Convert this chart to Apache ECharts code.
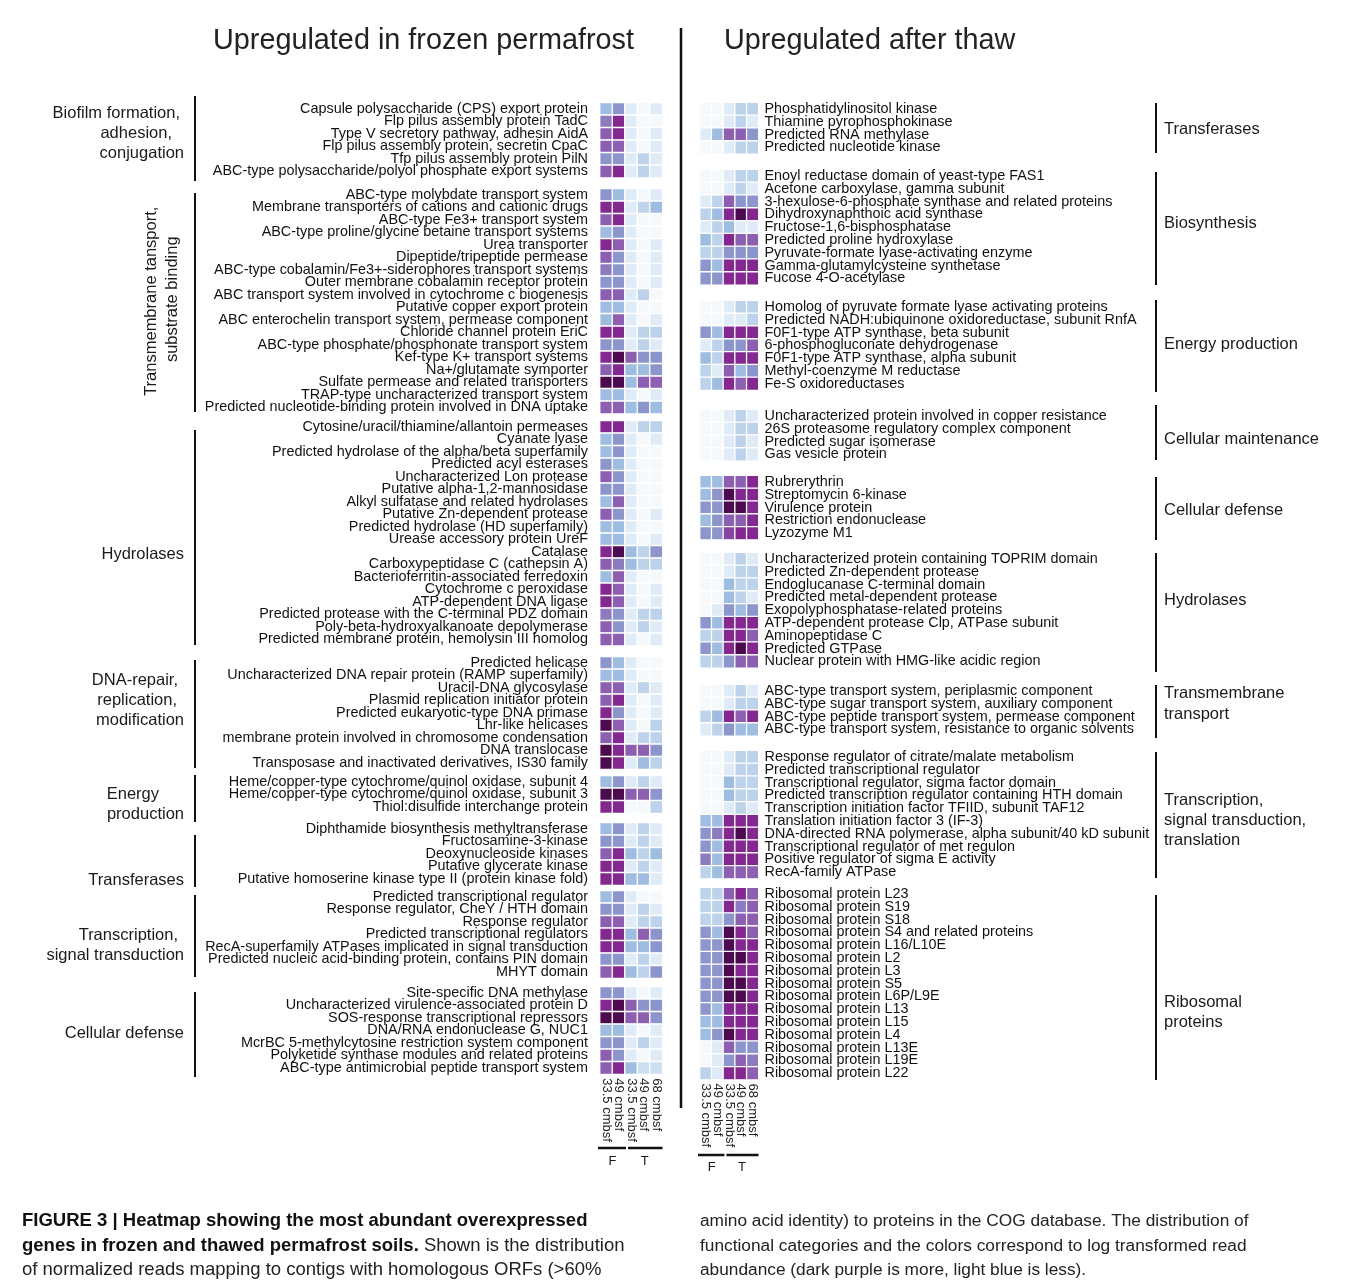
<!DOCTYPE html>
<html><head><meta charset="utf-8">
<script src="https://cdn.jsdelivr.net/npm/echarts@6/dist/echarts.min.js"></script>
<style>html,body{margin:0;padding:0;background:#fff}#chart{width:1358px;height:1284px}</style>
</head><body><div id="chart"></div>
<script>
// ---------------- DATA ----------------
const sampleLabels = ['33.5 cmbsf','49 cmbsf','33.5 cmbsf','49 cmbsf','68 cmbsf'];
const stateLabels = ['F','T'];

const leftBiofilmGenes = ['Capsule polysaccharide (CPS) export protein','Flp pilus assembly protein TadC','Type V secretory pathway, adhesin AidA','Flp pilus assembly protein, secretin CpaC','Tfp pilus assembly protein PilN','ABC-type polysaccharide/polyol phosphate export systems'];
const leftBiofilmValues = [[3,4,1,0,1],[4.5,6,1,0,0],[5,6,1,0,1],[5,5,1,0,1],[4,4,1,2,1],[5,6,1,2,1]];

const leftTransportGenes = ['ABC-type molybdate transport system','Membrane transporters of cations and cationic drugs','ABC-type Fe3+ transport system','ABC-type proline/glycine betaine transport systems','Urea transporter','Dipeptide/tripeptide permease','ABC-type cobalamin/Fe3+-siderophores transport systems','Outer membrane cobalamin receptor protein','ABC transport system involved in cytochrome c biogenesis','Putative copper export protein','ABC enterochelin transport system, permease component','Chloride channel protein EriC','ABC-type phosphate/phosphonate transport system','Kef-type K+ transport systems','Na+/glutamate symporter','Sulfate permease and related transporters','TRAP-type uncharacterized transport system','Predicted nucleotide-binding protein involved in DNA uptake'];
const leftTransportValues = [[4,3,1,0,1],[6,6,1,2,3],[5,6,1,0,0],[3,4,1,0,0],[6,5,1,0,1],[5,4,1,0,1],[4.5,4,1,0,1],[4,4,1,0,1],[5,5,1,2,0],[3,3,1,0,0],[3,5,1,0,1],[6,6,1,2,2],[4,4,1,2,1],[6,7,5,4,4],[5,6,3,3,4],[7,7,3,5,5],[3,3,1,0,1],[5,5,3,4,3]];

const leftHydrolaseGenes = ['Cytosine/uracil/thiamine/allantoin permeases','Cyanate lyase','Predicted hydrolase of the alpha/beta superfamily','Predicted acyl esterases','Uncharacterized Lon protease','Putative alpha-1,2-mannosidase','Alkyl sulfatase and related hydrolases','Putative Zn-dependent protease','Predicted hydrolase (HD superfamily)','Urease accessory protein UreF','Catalase','Carboxypeptidase C (cathepsin A)','Bacterioferritin-associated ferredoxin','Cytochrome c peroxidase','ATP-dependent DNA ligase','Predicted protease with the C-terminal PDZ domain','Poly-beta-hydroxyalkanoate depolymerase','Predicted membrane protein, hemolysin III homolog'];
const leftHydrolaseValues = [[6,6,1,2,2],[3,4,1,0,1],[3,4,1,0,0],[4,3,1,0,0],[5,4,1,0,0],[4,4,1,0,0],[3,5,1,0,0],[5,4,1,0,1],[3,3,1,0,0],[3,3,1,0,1],[6,7,3,2,4],[5,4.5,3,2,2],[3,5,1,0,0],[6,5,1,0,1],[6,5,1,0,1],[4.5,4,1,2,2],[5,4,1,2,1],[5,5,1,0,1]];

const leftDnaGenes = ['Predicted helicase','Uncharacterized DNA repair protein (RAMP superfamily)','Uracil-DNA glycosylase','Plasmid replication initiator protein','Predicted eukaryotic-type DNA primase','Lhr-like helicases','membrane protein involved in chromosome condensation','DNA translocase','Transposase and inactivated derivatives, IS30 family'];
const leftDnaValues = [[4,3,1,0,0],[3,3,1,0,0],[5,5,1,2,1],[5,6,1,0,1],[6,4,1,0,1],[7,5,1,0,2],[5,6,1,2,2],[7,6,5,5,4],[7,6,1,3,2]];

const leftEnergyGenes = ['Heme/copper-type cytochrome/quinol oxidase, subunit 4','Heme/copper-type cytochrome/quinol oxidase, subunit 3','Thiol:disulfide interchange protein'];
const leftEnergyValues = [[3,4,1,2,1],[7,7,5,5,4],[6,6,0,0,2]];

const leftTransferaseGenes = ['Diphthamide biosynthesis methyltransferase','Fructosamine-3-kinase','Deoxynucleoside kinases','Putative glycerate kinase','Putative homoserine kinase type II (protein kinase fold)'];
const leftTransferaseValues = [[3,4,1,2,1],[4,4,1,2,1],[5,6,3,2,3],[6,6,1,2,1],[6,6,3,3,1]];

const leftTranscriptionGenes = ['Predicted transcriptional regulator','Response regulator, CheY / HTH domain','Response regulator','Predicted transcriptional regulators','RecA-superfamily ATPases implicated in signal transduction','Predicted nucleic acid-binding protein, contains PIN domain','MHYT domain'];
const leftTranscriptionValues = [[3,4,1,0,0],[4,4,1,2,1],[5,5,1,2,2],[6,6,3,5,4],[6,6,3,3,4],[4,4,1,2,1],[5,6,3,2,4]];

const leftDefenseGenes = ['Site-specific DNA methylase','Uncharacterized virulence-associated protein D','SOS-response transcriptional repressors','DNA/RNA endonuclease G, NUC1','McrBC 5-methylcytosine restriction system component','Polyketide synthase modules and related proteins','ABC-type antimicrobial peptide transport system'];
const leftDefenseValues = [[4,4,1,0,1],[6,7,5,4,4],[7,7,5,5,4],[3,3,1,0,1],[4,4,1,2,1],[5,4,1,0,1],[5,6,3,1.5,1.5]];

const rightTransferaseGenes = ['Phosphatidylinositol kinase','Thiamine pyrophosphokinase','Predicted RNA methylase','Predicted nucleotide kinase'];
const rightTransferaseValues = [[0,0,1,2,2],[0,0,1,2,1],[1,3,5,5,4],[0,0,1,2,2]];

const rightBiosynthesisGenes = ['Enoyl reductase domain of yeast-type FAS1','Acetone carboxylase, gamma subunit','3-hexulose-6-phosphate synthase and related proteins','Dihydroxynaphthoic acid synthase','Fructose-1,6-bisphosphatase','Predicted proline hydroxylase','Pyruvate-formate lyase-activating enzyme','Gamma-glutamylcysteine synthetase','Fucose 4-O-acetylase'];
const rightBiosynthesisValues = [[0,0,1,2,2],[0,0,1,2,1],[1,2,5,4,4],[2,3,6,7,6],[1,2,3,1,1],[3,2,6,5,5],[2,2,4,4,4],[4,3,6,6,6],[4,4,6,6,6]];

const rightEnergyGenes = ['Homolog of pyruvate formate lyase activating proteins','Predicted NADH:ubiquinone oxidoreductase, subunit RnfA','F0F1-type ATP synthase, beta subunit','6-phosphogluconate dehydrogenase','F0F1-type ATP synthase, alpha subunit','Methyl-coenzyme M reductase','Fe-S oxidoreductases'];
const rightEnergyValues = [[0,0,1,2,2],[0,0,1,1,2],[4,3,6,6,6],[1,2,4,4,5],[3,2,6,6,6],[2,1,5,3,4],[2,3,6,5,6]];

const rightMaintenanceGenes = ['Uncharacterized protein involved in copper resistance','26S proteasome regulatory complex component','Predicted sugar isomerase','Gas vesicle protein'];
const rightMaintenanceValues = [[0,0,1,2,1],[0,0,1,2,2],[0,0,1,2,1],[0,0,1,2,1]];

const rightDefenseGenes = ['Rubrerythrin','Streptomycin 6-kinase','Virulence protein','Restriction endonuclease','Lyzozyme M1'];
const rightDefenseValues = [[3,3,5,5,6],[3,4,7,6,6],[4,4,7,7,6],[3,4,5,5,6],[4,4,5.5,6,6]];

const rightHydrolaseGenes = ['Uncharacterized protein containing TOPRIM domain','Predicted Zn-dependent protease','Endoglucanase C-terminal domain','Predicted metal-dependent protease','Exopolyphosphatase-related proteins','ATP-dependent protease Clp, ATPase subunit','Aminopeptidase C','Predicted GTPase','Nuclear protein with HMG-like acidic region'];
const rightHydrolaseValues = [[0,0,1,2,1],[0,0,1,2,2],[0,0,3,2,2],[0,0,3,2,1],[0,1,4,3,4],[4,3,6,6,6],[2,2,6,6,5],[4,3,6,7,6],[2,2,4,5,5]];

const rightTransportGenes = ['ABC-type transport system, periplasmic component','ABC-type sugar transport system, auxiliary component','ABC-type peptide transport system, permease component','ABC-type transport system, resistance to organic solvents'];
const rightTransportValues = [[0,0,1,2,1],[0,0,1,2,2],[2,3,6,5,6],[1,2,4,3,3]];

const rightTranscriptionGenes = ['Response regulator of citrate/malate metabolism','Predicted transcriptional regulator','Transcriptional regulator, sigma factor domain','Predicted transcription regulator containing HTH domain','Transcription initiation factor TFIID, subunit TAF12','Translation initiation factor 3 (IF-3)','DNA-directed RNA polymerase, alpha subunit/40 kD subunit','Transcriptional regulator of met regulon','Positive regulator of sigma E activity','RecA-family ATPase'];
const rightTranscriptionValues = [[0,0,1,2,2],[0,0,1,2,2],[0,0,3,2,2],[0,0,3,2,2],[0,0,1,2,1],[3,3,6,6,6],[4,4.5,6,7,6],[4,3,6,6,6],[4.5,3,6,6,6],[2,3,5,5,5]];

const rightRibosomalGenes = ['Ribosomal protein L23','Ribosomal protein S19','Ribosomal protein S18','Ribosomal protein S4 and related proteins','Ribosomal protein L16/L10E','Ribosomal protein L2','Ribosomal protein L3','Ribosomal protein S5','Ribosomal protein L6P/L9E','Ribosomal protein L13','Ribosomal protein L15','Ribosomal protein L4','Ribosomal protein L13E','Ribosomal protein L19E','Ribosomal protein L22'];
const rightRibosomalValues = [[2,2,5,6,5],[2,2,6,4.5,5],[2,2,4,5,5],[4,3,7,6,5],[4,4,7,6,6],[4,4,7,7,6],[4,4,7,6,6],[4,4,7,7,6],[4,4,7,7,6],[4,3,6,6,6],[3,3,6,6,6],[3,4,7,6,6],[0,1,5,4,4],[0,1,4,5,4.5],[2,1,6,6,5]];

const leftCategoryTitles = [['Biofilm formation,','adhesion,','conjugation'],['Transmembrane tansport,','substrate binding'],['Hydrolases'],['DNA-repair,','replication,','modification'],['Energy','production'],['Transferases'],['Transcription,','signal transduction'],['Cellular defense']];
const rightCategoryTitles = [['Transferases'],['Biosynthesis'],['Energy production'],['Cellular maintenance'],['Cellular defense'],['Hydrolases'],['Transmembrane','transport'],['Transcription,','signal transduction,','translation'],['Ribosomal','proteins']];

// ---------------- LAYOUT ----------------
const FONT = '"Liberation Sans", Arial, Helvetica, sans-serif';
const BUPU = ['#f5f9fc','#dfebf6','#bdd3eb','#9ebde0','#8c96cc','#8c5fb0','#82288f','#4b0b4e'];

const leftPanel = {
  left: 600, colW: 12.5, pitch: 12.5, side: 'left', labelMargin: 12,
  groups: [
    [leftBiofilmGenes, leftBiofilmValues, 109],
    [leftTransportGenes, leftTransportValues, 195],
    [leftHydrolaseGenes, leftHydrolaseValues, 427],
    [leftDnaGenes, leftDnaValues, 663],
    [leftEnergyGenes, leftEnergyValues, 782],
    [leftTransferaseGenes, leftTransferaseValues, 829],
    [leftTranscriptionGenes, leftTranscriptionValues, 897],
    [leftDefenseGenes, leftDefenseValues, 993]
  ]
};
const rightPanel = {
  left: 700, colW: 11.7, pitch: 12.8, side: 'right', labelMargin: 6,
  groups: [
    [rightTransferaseGenes, rightTransferaseValues, 109],
    [rightBiosynthesisGenes, rightBiosynthesisValues, 176],
    [rightEnergyGenes, rightEnergyValues, 307],
    [rightMaintenanceGenes, rightMaintenanceValues, 416],
    [rightDefenseGenes, rightDefenseValues, 482],
    [rightHydrolaseGenes, rightHydrolaseValues, 559],
    [rightTransportGenes, rightTransportValues, 691],
    [rightTranscriptionGenes, rightTranscriptionValues, 757],
    [rightRibosomalGenes, rightRibosomalValues, 894]
  ]
};

// category bracket extents (y from, y to)
const leftBarSpans = [[96,181],[193,412],[430,645],[660,768],[775,822],[835,887],[895,977],[992,1077]];
const rightBarSpans = [[103,153],[172,285],[300,392],[405,460],[477,540],[553,672],[685,738],[752,878],[895,1080]];

// positions of category title lines: [x, y, align]
const leftTitlePos = [
  [[180,113,'right'],[172,133,'right'],[184,153,'right']],
  null,
  [[184,554,'right']],
  [[178,680,'right'],[177,700,'right'],[184,720,'right']],
  [[159,794,'right'],[184,814,'right']],
  [[184,880,'right']],
  [[178,935,'right'],[184,955,'right']],
  [[184,1033,'right']]
];
const rightTitlePos = [[129],[223],[344],[439],[510],[600],[693,714],[800,820,840],[1002,1022]];

const grids = [], xAxes = [], yAxes = [], series = [], graphics = [];

function buildPanel(panel) {
  const boxes = [];
  panel.groups.forEach((g, gi) => {
    const [genes, values, firstCenter] = g;
    const top = firstCenter - panel.pitch / 2;
    const height = genes.length * panel.pitch;
    const width = panel.colW * sampleLabels.length;
    const idx = grids.length;
    const isLast = gi === panel.groups.length - 1;
    grids.push({ left: panel.left, top: top, width: width, height: height, containLabel: false });
    xAxes.push({
      type: 'category', gridIndex: idx, data: sampleLabels, position: 'bottom',
      axisLine: { show: false }, axisTick: { show: false }, splitLine: { show: false },
      axisLabel: { show: isLast, rotate: -90, interval: 0, margin: 4, fontSize: 13, color: '#222', fontFamily: FONT }
    });
    yAxes.push({
      type: 'category', gridIndex: idx, data: genes, inverse: true, position: panel.side,
      axisLine: { show: false }, axisTick: { show: false }, splitLine: { show: false },
      axisLabel: { interval: 0, margin: panel.labelMargin, fontSize: 14.4, color: '#111', fontFamily: FONT }
    });
    const data = [];
    values.forEach((row, r) => row.forEach((v, c) => data.push([c, r, v])));
    series.push({
      type: 'heatmap', xAxisIndex: idx, yAxisIndex: idx, data: data,
      itemStyle: { borderColor: '#ffffff', borderWidth: 1.3 },
      emphasis: { disabled: true }, silent: true, progressive: 0
    });
    boxes.push({ top: top, bottom: top + height, left: panel.left, width: width });
  });
  return boxes;
}
const leftBoxes = buildPanel(leftPanel);
const rightBoxes = buildPanel(rightPanel);

function txt(x, y, text, size, align, extra) {
  return {
    type: 'text', x: x, y: y, silent: true,
    style: Object.assign({ text: text, font: size + 'px ' + FONT, fill: '#1a1a1a', align: align || 'left', verticalAlign: 'middle' }, extra || {})
  };
}
function line(x1, y1, x2, y2, w) {
  return { type: 'line', silent: true, shape: { x1: x1, y1: y1, x2: x2, y2: y2 }, style: { stroke: '#111', lineWidth: w || 2 } };
}

// titles
graphics.push(txt(213, 41, 'Upregulated in frozen permafrost', 28.8, 'left', { fill: '#222' }));
graphics.push(txt(724, 41, 'Upregulated after thaw', 28.8, 'left', { fill: '#222' }));
// divider
graphics.push(line(681, 28, 681, 1108, 2.5));

// left category bars + titles
leftBoxes.forEach((b, i) => {
  graphics.push(line(195, leftBarSpans[i][0], 195, leftBarSpans[i][1], 2));
  const pos = leftTitlePos[i];
  if (pos) {
    leftCategoryTitles[i].forEach((t, k) => graphics.push(txt(pos[k][0], pos[k][1], t, 16.5, pos[k][2])));
  } else {
    const cy = (b.top + b.bottom) / 2;
    const t = leftCategoryTitles[i];
    graphics.push(Object.assign(txt(0, 0, t[0], 16.5, 'center'), { x: 151, y: cy, rotation: Math.PI / 2 }));
    graphics.push(Object.assign(txt(0, 0, t[1], 16.5, 'center'), { x: 172, y: cy - 2, rotation: Math.PI / 2 }));
  }
});
// right category bars + titles
rightBoxes.forEach((b, i) => {
  graphics.push(line(1156, rightBarSpans[i][0], 1156, rightBarSpans[i][1], 2));
  rightCategoryTitles[i].forEach((t, k) => graphics.push(txt(1164, rightTitlePos[i][k], t, 16.5, 'left')));
});

// F / T brackets
function brackets(box, colW, lineY, textY) {
  const L = box.left;
  graphics.push(line(L - 2, lineY, L + 2 * colW + 1, lineY, 2.5));
  graphics.push(line(L + 2 * colW + 3, lineY, L + 5 * colW, lineY, 2.5));
  graphics.push(txt(L + colW, textY, stateLabels[0], 13, 'center'));
  graphics.push(txt(L + 3.5 * colW + 1, textY, stateLabels[1], 13, 'center'));
}
brackets(leftBoxes[leftBoxes.length - 1], leftPanel.colW, 1148, 1161);
brackets(rightBoxes[rightBoxes.length - 1], rightPanel.colW, 1155, 1167);

// caption
const capLH = 24.5;
graphics.push({
  type: 'text', x: 22, y: 1209, silent: true,
  style: {
    text: '{b|FIGURE 3 | Heatmap showing the most abundant overexpressed}\n{b|genes in frozen and thawed permafrost soils.}{n| Shown is the distribution}\n{n|of normalized reads mapping to contigs with homologous ORFs (>60%}',
    rich: {
      b: { fontFamily: FONT, fontSize: 18.5, fontWeight: 'bold', fill: '#111', lineHeight: capLH },
      n: { fontFamily: FONT, fontSize: 18.5, fill: '#222', lineHeight: capLH }
    },
    font: '18.5px ' + FONT, fill: '#222', lineHeight: capLH
  }
});
graphics.push({
  type: 'text', x: 700, y: 1209, silent: true,
  style: {
    text: 'amino acid identity) to proteins in the COG database. The distribution of\nfunctional categories and the colors correspond to log transformed read\nabundance (dark purple is more, light blue is less).',
    font: '17.3px ' + FONT, fill: '#222', lineHeight: capLH
  }
});

const chart = echarts.init(document.getElementById('chart'), null, { renderer: 'canvas' });
chart.setOption({
  backgroundColor: '#ffffff',
  animation: false,
  grid: grids, xAxis: xAxes, yAxis: yAxes, series: series,
  visualMap: {
    type: 'continuous', show: false, min: 0, max: 7,
    seriesIndex: series.map((s, i) => i),
    inRange: { color: BUPU }
  },
  graphic: graphics
});
</script></body></html>
